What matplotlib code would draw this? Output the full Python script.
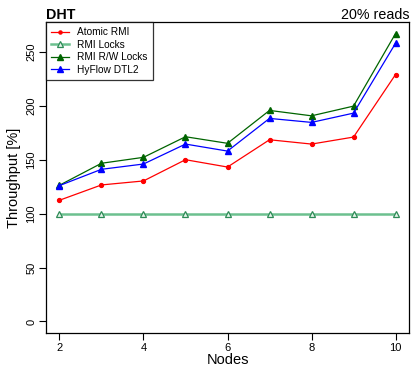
#!/usr/bin/env python3

import matplotlib.pyplot as plt

plt.rcParams["font.family"] = ["Liberation Sans", "DejaVu Sans"]

# =========================
# Data
# =========================
NODES = [2, 3, 4, 5, 6, 7, 8, 9, 10]

ATOMIC_RMI = [112.4, 126.6, 130.3, 150.0, 143.2, 168.5, 164.5, 171.0, 229.0]
RMI_LOCKS = [100, 100, 100, 100, 100, 100, 100, 100, 100]
RMI_RW_LOCKS = [126.3, 146.7, 152.2, 171.3, 165.2, 195.7, 190.7, 199.7, 267.0]
HYFLOW_DTL2 = [126.0, 141.1, 146.0, 164.5, 158.0, 188.3, 184.6, 193.2, 258.0]

X_TICKS = [2, 4, 6, 8, 10]
Y_TICKS = [0, 50, 100, 150, 200, 250]

OUTPUT_PATH = "out.png"


def main():
    fig = plt.figure(figsize=(4.11, 3.69), dpi=100)
    ax = fig.add_axes([46 / 411, 1 - 333 / 369, (409 - 46) / 411, (333 - 22) / 369])

    ax.plot(NODES, ATOMIC_RMI, color="#ff0000", marker="o", markersize=2.8,
            linewidth=0.9, label="Atomic RMI")
    ax.plot(NODES, RMI_LOCKS, color="#6cc08f", marker="^", markersize=5,
            markerfacecolor="#e6f5ea", markeredgecolor="#2e8b57",
            markeredgewidth=0.9, linewidth=1.8, label="RMI Locks")
    ax.plot(NODES, RMI_RW_LOCKS, color="#006400", marker="^", markersize=5,
            linewidth=0.9, label="RMI R/W Locks")
    ax.plot(NODES, HYFLOW_DTL2, color="#0000ff", marker="^", markersize=5,
            linewidth=0.9, label="HyFlow DTL2")

    # R-style 4% axis extension
    ax.set_xlim(2 - 0.32, 10 + 0.32)
    ax.set_ylim(-10.7, 277.7)
    ax.set_xticks(X_TICKS)
    ax.set_yticks(Y_TICKS)
    ax.tick_params(direction="out", length=5, width=0.8, labelsize=8, pad=2)
    for label in ax.get_yticklabels():
        label.set_rotation(90)
        label.set_va("center")
    for spine in ax.spines.values():
        spine.set_linewidth(0.9)

    ax.set_xlabel("Nodes", fontsize=10.5, labelpad=0)
    ax.set_ylabel("Throughput [%]", fontsize=10.5, labelpad=4)

    ax.set_title("DHT", loc="left", fontsize=10.3, fontweight="bold", pad=2)
    ax.set_title("20% reads", loc="right", fontsize=10.3, pad=2)

    leg = ax.legend(loc="upper left", fontsize=7.3, frameon=True, fancybox=False,
                    borderaxespad=0, handlelength=1.8, handletextpad=0.8,
                    labelspacing=0.25, borderpad=0.5, markerscale=0.8)
    leg.get_frame().set_edgecolor("black")
    leg.get_frame().set_linewidth(0.9)

    fig.savefig(OUTPUT_PATH, dpi=100)
    plt.close(fig)


if __name__ == "__main__":
    main()
